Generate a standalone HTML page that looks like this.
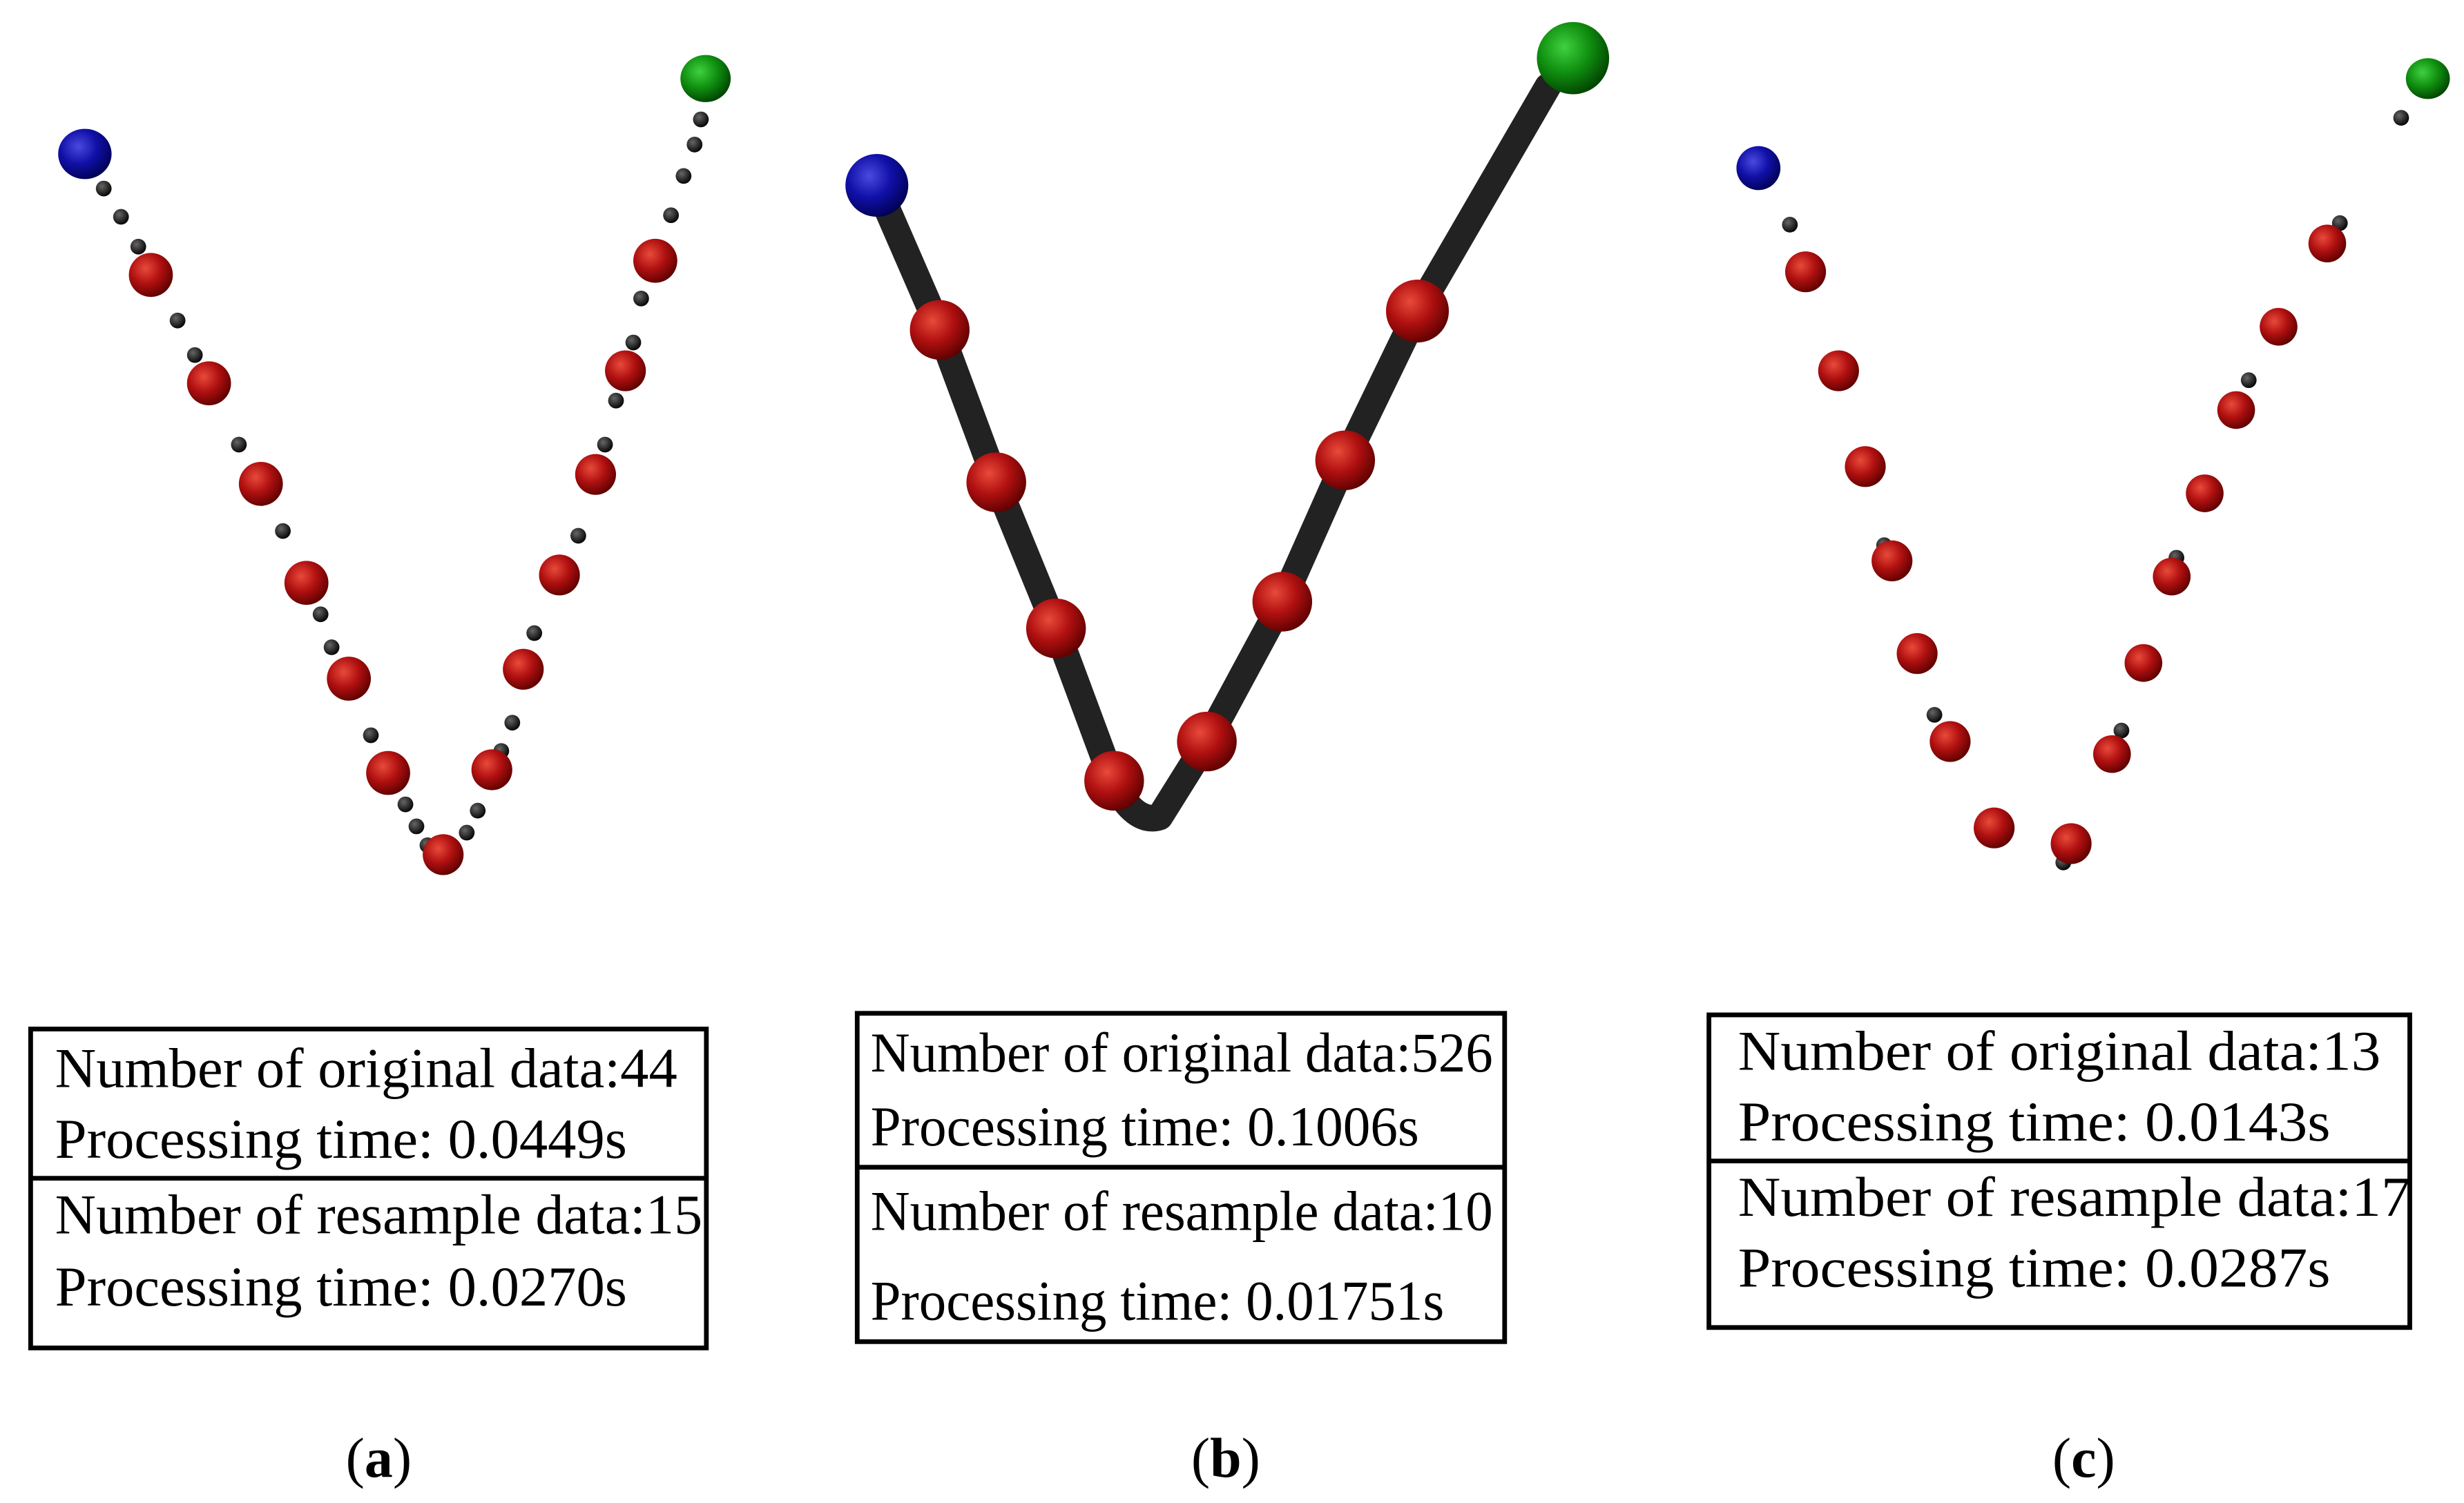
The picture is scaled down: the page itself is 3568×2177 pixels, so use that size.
<!DOCTYPE html>
<html><head><meta charset="utf-8"><style>html,body{margin:0;padding:0;background:#fff}svg{display:block}</style></head>
<body>
<svg width="3568" height="2177" viewBox="0 0 1568 956.7" xmlns="http://www.w3.org/2000/svg" font-family="Liberation Serif, serif">
<defs>
<radialGradient id="r" cx="0.38" cy="0.35" r="0.7"><stop offset="0" stop-color="#e84a3a"/><stop offset="0.5" stop-color="#b01010"/><stop offset="1" stop-color="#5a0000"/></radialGradient>
<radialGradient id="b" cx="0.38" cy="0.35" r="0.7"><stop offset="0" stop-color="#4a4ae0"/><stop offset="0.5" stop-color="#1010a8"/><stop offset="1" stop-color="#000050"/></radialGradient>
<radialGradient id="g" cx="0.38" cy="0.35" r="0.7"><stop offset="0" stop-color="#40d040"/><stop offset="0.5" stop-color="#109010"/><stop offset="1" stop-color="#004000"/></radialGradient>
<radialGradient id="k" cx="0.38" cy="0.35" r="0.7"><stop offset="0" stop-color="#666"/><stop offset="1" stop-color="#000"/></radialGradient>
</defs>
<rect width="1568" height="957" fill="#fff"/>
<!-- (a) -->
<g fill="url(#k)">
<circle cx="66" cy="120" r="5"/><circle cx="77" cy="138" r="5"/><circle cx="88" cy="157" r="5"/><circle cx="113" cy="204" r="5"/><circle cx="124" cy="226" r="5"/><circle cx="152" cy="283" r="5"/><circle cx="180" cy="338" r="5"/><circle cx="204" cy="391" r="5"/><circle cx="211" cy="412" r="5"/><circle cx="236" cy="468" r="5"/><circle cx="258" cy="512" r="5"/><circle cx="265" cy="526" r="5"/><circle cx="272" cy="538" r="5"/><circle cx="297" cy="530" r="5"/><circle cx="304" cy="516" r="5"/><circle cx="319" cy="478" r="5"/><circle cx="326" cy="460" r="5"/><circle cx="340" cy="403" r="5"/><circle cx="368" cy="341" r="5"/><circle cx="385" cy="283" r="5"/><circle cx="392" cy="255" r="5"/><circle cx="403" cy="218" r="5"/><circle cx="408" cy="190" r="5"/><circle cx="427" cy="137" r="5"/><circle cx="435" cy="112" r="5"/><circle cx="442" cy="92" r="5"/><circle cx="446" cy="76" r="5"/>
</g>
<g fill="url(#r)">
<circle cx="96" cy="175" r="14"/><circle cx="133" cy="244" r="14"/><circle cx="166" cy="308" r="14"/><circle cx="195" cy="371" r="14"/><circle cx="222" cy="432" r="14"/><circle cx="247" cy="492" r="14"/><circle cx="282" cy="544" r="13"/><circle cx="313" cy="490" r="13"/><circle cx="333" cy="426" r="13"/><circle cx="356" cy="366" r="13"/><circle cx="379" cy="302" r="13"/><circle cx="398" cy="236" r="13"/><circle cx="417" cy="166" r="14"/>
</g>
<ellipse cx="54" cy="98" rx="17" ry="16" fill="url(#b)"/>
<ellipse cx="449" cy="50" rx="16" ry="15" fill="url(#g)"/>
<!-- (b) -->
<path d="M558,118 L598,210 L634,307 L672,400 L708,497 Q722,525 738,520 L768,472 L816,383 L856,293 L902,198 L985,55" fill="none" stroke="#222" stroke-width="17" stroke-linecap="round" stroke-linejoin="round"/>
<g fill="url(#r)">
<circle cx="598" cy="210" r="19"/><circle cx="634" cy="307" r="19"/><circle cx="672" cy="400" r="19"/><circle cx="709" cy="497" r="19"/><circle cx="768" cy="472" r="19"/><circle cx="816" cy="383" r="19"/><circle cx="856" cy="293" r="19"/><circle cx="902" cy="198" r="20"/>
</g>
<ellipse cx="558" cy="118" rx="20" ry="20" fill="url(#b)"/>
<ellipse cx="1001" cy="37" rx="23" ry="23" fill="url(#g)"/>
<!-- (c) -->
<g fill="url(#k)">
<circle cx="1139" cy="143" r="5"/><circle cx="1231" cy="455" r="5"/><circle cx="1313" cy="549" r="5"/><circle cx="1350" cy="465" r="5"/><circle cx="1385" cy="355" r="5"/><circle cx="1431" cy="242" r="5"/><circle cx="1489" cy="142" r="5"/><circle cx="1528" cy="75" r="5"/><circle cx="1199" cy="347" r="5"/>
</g>
<g fill="url(#r)">
<circle cx="1149" cy="173" r="13"/><circle cx="1170" cy="236" r="13"/><circle cx="1187" cy="297" r="13"/><circle cx="1204" cy="357" r="13"/><circle cx="1220" cy="416" r="13"/><circle cx="1241" cy="472" r="13"/><circle cx="1269" cy="527" r="13"/><circle cx="1318" cy="537" r="13"/><circle cx="1344" cy="480" r="12"/><circle cx="1364" cy="422" r="12"/><circle cx="1382" cy="367" r="12"/><circle cx="1403" cy="314" r="12"/><circle cx="1423" cy="261" r="12"/><circle cx="1450" cy="208" r="12"/><circle cx="1481" cy="155" r="12"/>
</g>
<ellipse cx="1119" cy="107" rx="14" ry="14" fill="url(#b)"/>
<ellipse cx="1545" cy="50" rx="14" ry="13" fill="url(#g)"/>
<!-- boxes -->
<g fill="none" stroke="#000" stroke-width="3">
<rect x="19.5" y="655" width="430" height="203"/><line x1="19.5" y1="750" x2="449.5" y2="750"/>
<rect x="545.5" y="645" width="412" height="209"/><line x1="545.5" y1="743" x2="957.5" y2="743"/>
<rect x="1087.5" y="646" width="446" height="199"/><line x1="1087.5" y1="739" x2="1533.5" y2="739"/>
</g>
<g font-size="36" fill="#000" lengthAdjust="spacingAndGlyphs">
<text x="35" y="692" textLength="396" lengthAdjust="spacingAndGlyphs">Number of original data:44</text>
<text x="35" y="737" textLength="364" lengthAdjust="spacingAndGlyphs">Processing time: 0.0449s</text>
<text x="35" y="785" textLength="412" lengthAdjust="spacingAndGlyphs">Number of resample data:15</text>
<text x="35" y="831" textLength="364" lengthAdjust="spacingAndGlyphs">Processing time: 0.0270s</text>
<text x="554" y="682" textLength="396" lengthAdjust="spacingAndGlyphs">Number of original data:526</text>
<text x="554" y="729" textLength="349" lengthAdjust="spacingAndGlyphs">Processing time: 0.1006s</text>
<text x="554" y="783" textLength="396" lengthAdjust="spacingAndGlyphs">Number of resample data:10</text>
<text x="554" y="840" textLength="365" lengthAdjust="spacingAndGlyphs">Processing time: 0.01751s</text>
<text x="1106" y="681" textLength="409" lengthAdjust="spacingAndGlyphs">Number of original data:13</text>
<text x="1106" y="726" textLength="377" lengthAdjust="spacingAndGlyphs">Processing time: 0.0143s</text>
<text x="1106" y="774" textLength="428" lengthAdjust="spacingAndGlyphs">Number of resample data:17</text>
<text x="1106" y="819" textLength="377" lengthAdjust="spacingAndGlyphs">Processing time: 0.0287s</text>
</g>
<g font-size="36" text-anchor="middle">
<text x="241" y="940">(<tspan font-weight="bold">a</tspan>)</text>
<text x="780" y="940">(<tspan font-weight="bold">b</tspan>)</text>
<text x="1326" y="940">(<tspan font-weight="bold">c</tspan>)</text>
</g>
</svg>
</body></html>
